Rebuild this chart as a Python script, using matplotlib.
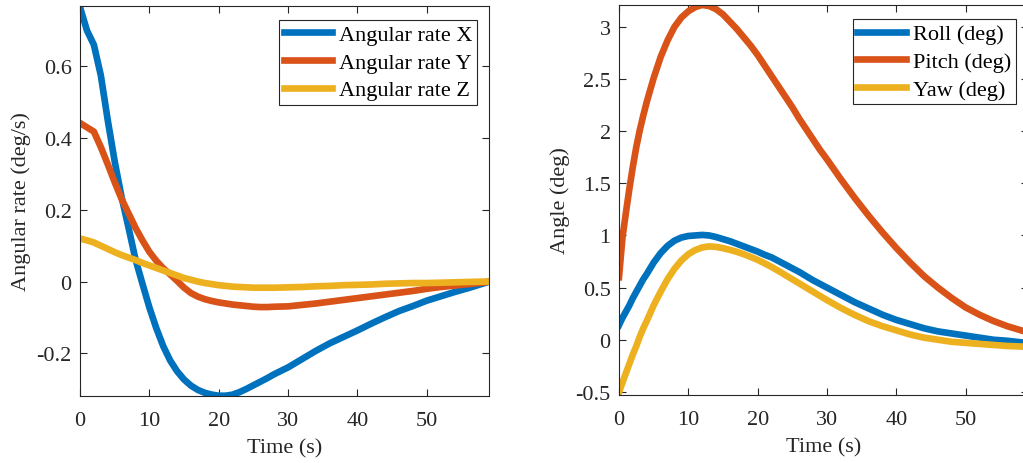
import numpy as np
import matplotlib
matplotlib.use("Agg")
import matplotlib.pyplot as plt

plt.rcParams['font.family'] = ['Liberation Serif', 'DejaVu Serif']
plt.rcParams['axes.unicode_minus'] = False

# left panel: angular rates
t_rate = [0, 1, 2, 3, 4, 5, 6, 7, 8, 9, 10, 11, 12, 13, 14, 15, 16, 17, 18, 19,
          20, 21, 22, 23, 24, 25, 26, 27, 28, 30, 32, 34, 36, 38, 40, 42, 44,
          46, 48, 50, 52, 54, 56, 58, 59]
rate_x = [0.765, 0.70, 0.66, 0.575, 0.45, 0.335, 0.235, 0.15, 0.062, -0.006, -0.072,
          -0.13, -0.18, -0.22, -0.25, -0.273, -0.29, -0.302, -0.31, -0.315,
          -0.318, -0.318, -0.315, -0.308, -0.299, -0.289, -0.279, -0.269, -0.258,
          -0.239, -0.216, -0.193, -0.172, -0.154, -0.136, -0.117, -0.099,
          -0.082, -0.068, -0.053, -0.041, -0.029, -0.018, -0.006, 0.0]
rate_y = [0.442, 0.43, 0.418, 0.375, 0.327, 0.277, 0.23, 0.19, 0.15, 0.115, 0.083,
          0.058, 0.037, 0.02, 0.002, -0.017, -0.032, -0.042, -0.049, -0.054,
          -0.058, -0.061, -0.064, -0.066, -0.068, -0.070, -0.071, -0.071, -0.070,
          -0.069, -0.065, -0.061, -0.056, -0.051, -0.046, -0.041, -0.036,
          -0.031, -0.026, -0.020, -0.015, -0.011, -0.007, -0.003, 0.0]
rate_z = [0.12, 0.115, 0.109, 0.1, 0.091, 0.082, 0.074, 0.067, 0.06, 0.052, 0.045,
          0.038, 0.031, 0.024, 0.017, 0.010, 0.005, 0.0, -0.004, -0.007,
          -0.010, -0.012, -0.014, -0.015, -0.016, -0.017, -0.017, -0.017, -0.017,
          -0.016, -0.015, -0.013, -0.012, -0.010, -0.009, -0.008, -0.006,
          -0.005, -0.004, -0.004, -0.003, -0.002, -0.001, 0.0, 0.0]

# right panel: attitude angles
t_ang = [0, 0.5, 1, 1.5, 2, 2.5, 3, 3.5, 4, 5, 6, 7, 8, 9, 10, 11, 12, 13, 14, 15,
         16, 17, 18, 19, 20, 21, 22, 23, 24, 25, 26, 27, 28, 29, 30, 32, 34, 36,
         38, 40, 42, 44, 46, 48, 50, 52, 54, 56, 58, 59]
pitch = [0.60, 0.98, 1.22, 1.45, 1.66, 1.85, 2.01, 2.15, 2.28, 2.51, 2.71, 2.87,
         3.00, 3.09, 3.15, 3.19, 3.21, 3.20, 3.17, 3.12, 3.05, 2.98, 2.90, 2.82,
         2.73, 2.63, 2.53, 2.43, 2.33, 2.23, 2.12, 2.02, 1.92, 1.82, 1.73, 1.54,
         1.36, 1.19, 1.03, 0.88, 0.74, 0.61, 0.50, 0.40, 0.31, 0.24, 0.18, 0.13,
         0.09, 0.07]
roll = [0.14, 0.21, 0.27, 0.33, 0.40, 0.46, 0.52, 0.58, 0.63, 0.74, 0.83, 0.90,
        0.95, 0.98, 0.995, 1.00, 1.005, 1.00, 0.985, 0.965, 0.945, 0.92, 0.895,
        0.87, 0.845, 0.815, 0.79, 0.755, 0.72, 0.685, 0.65, 0.61, 0.57, 0.535,
        0.50, 0.43, 0.36, 0.30, 0.24, 0.19, 0.15, 0.11, 0.08, 0.06, 0.04, 0.02,
        0.00, -0.01, -0.025, -0.03]
yaw = [-0.505, -0.41, -0.32, -0.23, -0.14, -0.06, 0.03, 0.11, 0.18, 0.33, 0.46, 0.58,
       0.68, 0.76, 0.82, 0.86, 0.885, 0.895, 0.89, 0.878, 0.862, 0.843, 0.82,
       0.794, 0.766, 0.733, 0.698, 0.66, 0.62, 0.58, 0.54, 0.50, 0.46, 0.42,
       0.38, 0.305, 0.238, 0.178, 0.13, 0.09, 0.05, 0.02, 0.00, -0.02, -0.03,
       -0.04, -0.05, -0.06, -0.065, -0.07]

colors = ['#0072BD', '#D95319', '#EDB120']
fs = 16
lw = 4.8

fig = plt.figure(figsize=(10.23, 4.64), dpi=100)
ax1 = fig.add_axes([80 / 1023, 67.3 / 464, 409.3 / 1023, 390 / 464])
ax2 = fig.add_axes([619 / 1023, 68 / 464, 409 / 1023, 390 / 464])


def style(ax):
    for s in ax.spines.values():
        s.set_color('#262626')
        s.set_linewidth(0.8)
    ax.tick_params(direction='in', length=5, width=0.8, top=True, right=True,
                   colors='#262626', labelsize=fs)
    ax.tick_params(axis='x', pad=11)
    ax.tick_params(axis='y', pad=6)


ax1.plot(t_rate, rate_x, color=colors[0], lw=lw, solid_joinstyle='round', label='Angular rate X')
ax1.plot(t_rate, rate_y, color=colors[1], lw=lw, solid_joinstyle='round', label='Angular rate Y')
ax1.plot(t_rate, rate_z, color=colors[2], lw=lw, solid_joinstyle='round', label='Angular rate Z')
ax1.set_xlim(0, 59)
ax1.set_ylim(-0.318, 0.769)
ax1.set_xticks([0, 10, 20, 30, 40, 50])
ax1.set_yticks([-0.2, 0, 0.2, 0.4, 0.6])
ax1.set_yticklabels(['-0.2', '0', '0.2', '0.4', '0.6'])
ax1.set_xlabel('Time (s)', fontsize=fs, color='#262626', labelpad=6)
ax1.set_ylabel('Angular rate (deg/s)', fontsize=fs, color='#262626', labelpad=4)
style(ax1)

ax2.plot(t_ang, roll, color=colors[0], lw=lw, solid_joinstyle='round', label='Roll (deg)')
ax2.plot(t_ang, pitch, color=colors[1], lw=lw, solid_joinstyle='round', label='Pitch (deg)')
ax2.plot(t_ang, yaw, color=colors[2], lw=lw, solid_joinstyle='round', label='Yaw (deg)')
ax2.set_xlim(0, 59)
ax2.set_ylim(-0.53, 3.21)
ax2.set_xticks([0, 10, 20, 30, 40, 50])
ax2.set_yticks([-0.5, 0, 0.5, 1, 1.5, 2, 2.5, 3])
ax2.set_yticklabels(['-0.5', '0', '0.5', '1', '1.5', '2', '2.5', '3'])
ax2.set_xlabel('Time (s)', fontsize=fs, color='#262626', labelpad=6)
ax2.set_ylabel('Angle (deg)', fontsize=fs, color='#262626', labelpad=4)
style(ax2)

for ax in (ax1, ax2):
    leg = ax.legend(loc='upper right', bbox_to_anchor=(0.970, 0.963),
                    borderaxespad=0, fontsize=fs, fancybox=False, framealpha=1,
                    edgecolor='#262626', handlelength=2.2, labelspacing=0.32,
                    handletextpad=0.3, borderpad=0.2)
    leg.get_frame().set_linewidth(0.8)

fig.savefig('out.png', dpi=100)
